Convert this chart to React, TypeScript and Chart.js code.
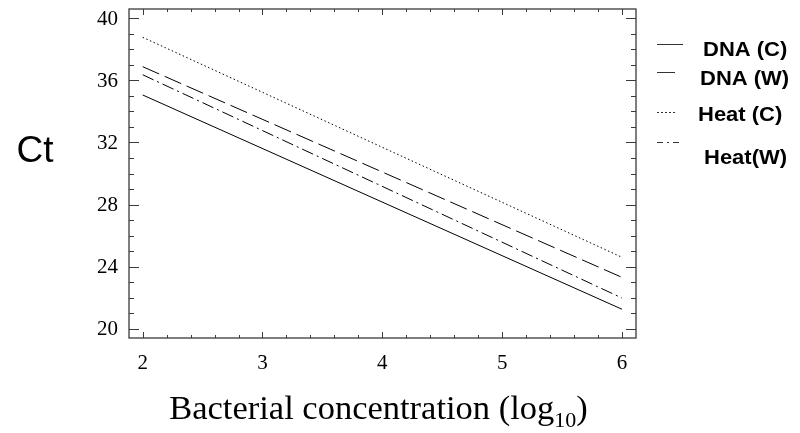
import React, { useEffect, useRef } from "react";
import { Chart, registerables } from "chart.js";

Chart.register(...registerables);

// ---- data ----
const xValues = [2, 6];
const dnaC = [35.05, 21.27];
const dnaW = [36.87, 23.32];
const heatC = [38.76, 24.61];
const heatW = [36.35, 21.99];
const seriesLabels = ["DNA (C)", "DNA (W)", "Heat (C)", "Heat(W)"];
const xTicks = [2, 3, 4, 5, 6];
const yTicks = [20, 24, 28, 32, 36, 40];
const yAxisTitle = "Ct";
const xAxisTitleMain = "Bacterial concentration (log";
const xAxisTitleSub = "10";
const xAxisTitleEnd = ")";

const dashes: number[][] = [[], [18, 6], [1.5, 2.5], [12, 4, 2, 4]];
const legendDashes: number[][] = [[], [18, 8], [2, 2], [6, 4, 2, 4]];

const framePlugin = {
  id: "framePlugin",
  afterDraw(chart: any) {
    const ctx = chart.ctx;
    const { left, right, top, bottom } = chart.chartArea;
    const xs = chart.scales.x;
    const ys = chart.scales.y;
    ctx.save();
    ctx.strokeStyle = "#3a3a3a";
    ctx.lineWidth = 1.3;
    ctx.setLineDash([]);
    ctx.strokeRect(left, top, right - left, bottom - top);
    ctx.lineWidth = 1;
    // x ticks (major + minor), inward, top and bottom
    for (let i = 0; i < xTicks.length; i++) {
      const v = xTicks[i];
      for (let k = 0; k < 5; k++) {
        const val = v + k * 0.2;
        if (val > xs.max) break;
        const px = Math.round(xs.getPixelForValue(val)) + 0.5;
        const len = k === 0 ? 6 : 3;
        ctx.beginPath();
        ctx.moveTo(px, bottom);
        ctx.lineTo(px, bottom - len);
        ctx.moveTo(px, top);
        ctx.lineTo(px, top + len);
        ctx.stroke();
      }
    }
    // y ticks
    for (let i = 0; i < yTicks.length; i++) {
      const v = yTicks[i];
      for (let k = 0; k < 4; k++) {
        const val = v + k;
        if (val > ys.max) break;
        const py = Math.round(ys.getPixelForValue(val)) + 0.5;
        const len = k === 0 ? 10 : 5;
        ctx.beginPath();
        ctx.moveTo(left, py);
        ctx.lineTo(left + len, py);
        ctx.moveTo(right, py);
        ctx.lineTo(right - len, py);
        ctx.stroke();
      }
    }
    // tick labels
    ctx.fillStyle = "#000";
    ctx.font = '21px "Liberation Serif"';
    ctx.textAlign = "right";
    ctx.textBaseline = "middle";
    yTicks.forEach((v) => {
      ctx.fillText(String(v), left - 11, ys.getPixelForValue(v) + 1);
    });
    ctx.textAlign = "center";
    ctx.textBaseline = "middle";
    xTicks.forEach((v) => {
      ctx.fillText(String(v), xs.getPixelForValue(v), bottom + 25);
    });
    // y axis title
    ctx.font = '37px "Liberation Sans"';
    ctx.textAlign = "center";
    ctx.textBaseline = "middle";
    ctx.fillText(yAxisTitle, 35, 152);
    // x axis title with subscript
    const mainFont = '34.5px "Liberation Serif"';
    const subFont = '22px "Liberation Serif"';
    ctx.font = mainFont;
    const w1 = ctx.measureText(xAxisTitleMain).width;
    const w3 = ctx.measureText(xAxisTitleEnd).width;
    ctx.font = subFont;
    const w2 = ctx.measureText(xAxisTitleSub).width;
    const total = w1 + w2 + w3;
    const cx = (left + right) / 2 - 4;
    const x0 = cx - total / 2;
    const base = 419;
    ctx.textAlign = "left";
    ctx.textBaseline = "alphabetic";
    ctx.font = mainFont;
    ctx.fillText(xAxisTitleMain, x0, base);
    ctx.font = subFont;
    ctx.fillText(xAxisTitleSub, x0 + w1, base + 8);
    ctx.font = mainFont;
    ctx.fillText(xAxisTitleEnd, x0 + w1 + w2, base);
    // legend
    const rowsText = [50, 79, 115, 158];
    const rowsLine = [44, 72, 112, 142];
    const textX = [703, 700, 698, 704];
    const lineEnd = [683, 683, 677, 683];
    ctx.font = 'bold 20px "Liberation Sans"';
    ctx.textBaseline = "middle";
    ctx.textAlign = "left";
    seriesLabels.forEach((lab, i) => {
      ctx.save();
      ctx.strokeStyle = "#333";
      ctx.lineWidth = 1;
      ctx.setLineDash(legendDashes[i]);
      ctx.beginPath();
      ctx.moveTo(657, rowsLine[i] + 0.5);
      ctx.lineTo(lineEnd[i], rowsLine[i] + 0.5);
      ctx.stroke();
      ctx.restore();
      ctx.save();
      ctx.translate(textX[i], rowsText[i]);
      ctx.scale(1.1, 1);
      ctx.fillStyle = "#000";
      ctx.fillText(lab, 0, 0);
      ctx.restore();
    });
    ctx.restore();
  },
};

export default function App() {
  const ref = useRef<HTMLCanvasElement | null>(null);
  useEffect(() => {
    if (!ref.current) return;
    const series = [dnaC, dnaW, heatC, heatW];
    const chart = new Chart(ref.current, {
      type: "line",
      data: {
        datasets: series.map((s, i) => ({
          label: seriesLabels[i],
          data: xValues.map((x, j) => ({ x, y: s[j] })),
          borderColor: "#000",
          borderWidth: 1,
          borderDash: dashes[i],
          pointRadius: 0,
          fill: false,
          tension: 0,
        })),
      },
      options: {
        responsive: false,
        animation: false,
        layout: { padding: { left: 129, right: 164, top: 9, bottom: 95 } },
        plugins: { legend: { display: false }, tooltip: { enabled: false } },
        scales: {
          x: { type: "linear", min: 1.886, max: 6.117, display: false },
          y: { type: "linear", min: 19.42, max: 40.58, display: false },
        },
      },
      plugins: [framePlugin],
    });
    return () => chart.destroy();
  }, []);
  return (
    <div style={{ position: "fixed", left: 0, top: 0, width: 800, height: 433, background: "#fff" }}>
      <canvas ref={ref} width={800} height={433} style={{ width: 800, height: 433, display: "block" }} />
    </div>
  );
}
